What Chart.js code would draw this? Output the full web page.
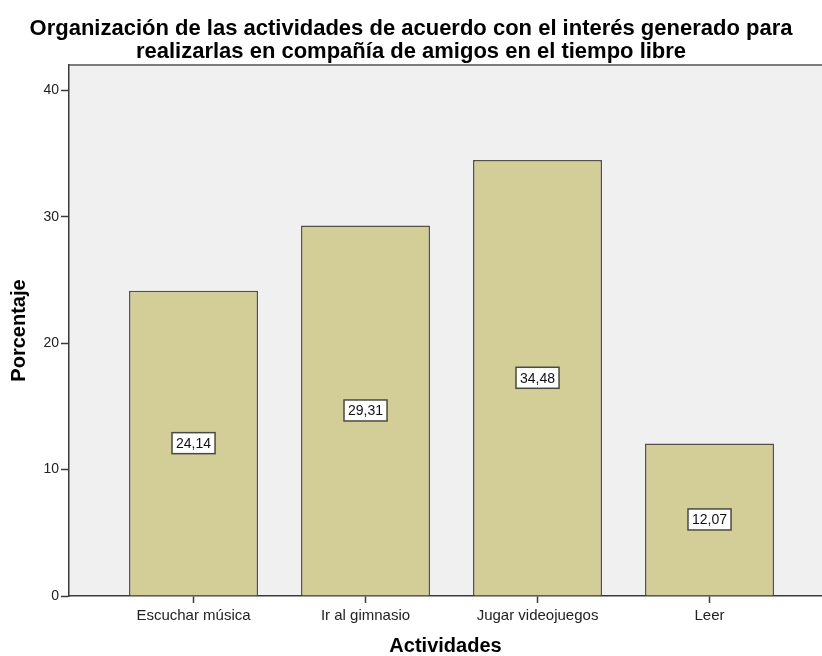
<!DOCTYPE html>
<html>
<head>
<meta charset="utf-8">
<script src="https://cdn.jsdelivr.net/npm/chart.js@4"></script>
<style>
  html, body { margin: 0; padding: 0; background: #ffffff; }
  #wrap { width: 822px; height: 656px; }
</style>
</head>
<body>
<div id="wrap"><canvas id="chart" width="822" height="656"></canvas></div>
<script>
// Activities and their share (%) of responses
const categories = ['Escuchar música', 'Ir al gimnasio', 'Jugar videojuegos', 'Leer'];
const percentages = [24.14, 29.31, 34.48, 12.07];
const yTicks = [0, 10, 20, 30, 40];
const titleLines = [
  'Organización de las actividades de acuerdo con el interés generado para',
  'realizarlas en compañía de amigos en el tiempo libre'
];
const xTitle = 'Actividades';
const yTitle = 'Porcentaje';

const FONT = "'Liberation Sans', Arial, sans-serif";
const AXIS_COLOR = '#3a3a3a';

// Plot background and the grey frame line along the top of the plot
const plotBackground = {
  id: 'plotBackground',
  beforeDraw(chart) {
    const { ctx, chartArea: a } = chart;
    ctx.save();
    ctx.fillStyle = '#f0f0f0';
    ctx.fillRect(a.left, a.top, a.right - a.left, a.bottom - a.top);
    ctx.strokeStyle = '#7c7c7c';
    ctx.lineWidth = 2;
    ctx.beginPath();
    ctx.moveTo(a.left, a.top);
    ctx.lineTo(a.right, a.top);
    ctx.stroke();
    ctx.restore();
  }
};

// Boxed value labels placed half way up each bar
const valueBoxes = {
  id: 'valueBoxes',
  afterDatasetsDraw(chart) {
    const { ctx } = chart;
    const meta = chart.getDatasetMeta(0);
    ctx.save();
    ctx.font = '14px ' + FONT;
    ctx.textAlign = 'center';
    ctx.textBaseline = 'middle';
    meta.data.forEach((bar, i) => {
      const text = percentages[i].toFixed(2).replace('.', ',');
      const cx = bar.x;
      const cy = (bar.y + bar.base) / 2;
      const w = ctx.measureText(text).width + 8;
      const h = 21;
      ctx.fillStyle = '#ffffff';
      ctx.fillRect(cx - w / 2, cy - h / 2, w, h);
      ctx.strokeStyle = '#4a4a3c';
      ctx.lineWidth = 1.5;
      ctx.strokeRect(cx - w / 2, cy - h / 2, w, h);
      ctx.fillStyle = '#111111';
      ctx.fillText(text, cx, cy + 1);
    });
    ctx.restore();
  }
};

new Chart(document.getElementById('chart'), {
  type: 'bar',
  data: {
    datasets: [{
      data: percentages.map((v, i) => ({ x: i + 1, y: v })),
      backgroundColor: 'rgb(211,206,151)',
      borderColor: '#525246',
      borderWidth: 1.5,
      barPercentage: 0.75,
      categoryPercentage: 1
    }]
  },
  options: {
    responsive: false,
    animation: false,
    layout: { padding: 0 },
    plugins: {
      legend: { display: false },
      tooltip: { enabled: false },
      title: {
        display: true,
        text: titleLines,
        color: '#000000',
        font: { family: FONT, size: 22, weight: 'bold', lineHeight: '23px' },
        padding: { top: 17, bottom: 2 }
      }
    },
    scales: {
      x: {
        type: 'linear',
        offset: false,
        min: 0.276,
        max: 4.654,
        afterBuildTicks(scale) {
          scale.ticks = categories.map((c, i) => ({ value: i + 1 }));
        },
        afterFit(scale) { scale.height = 60; },
        ticks: {
          autoSkip: false,
          maxRotation: 0,
          padding: 4,
          color: '#222222',
          font: { family: FONT, size: 15 },
          callback: (v) => categories[v - 1]
        },
        grid: {
          offset: false,
          drawOnChartArea: false,
          drawTicks: true,
          tickLength: 7,
          tickColor: AXIS_COLOR,
          tickWidth: 1.5
        },
        border: { display: true, color: AXIS_COLOR, width: 1.5 },
        title: {
          display: true,
          text: xTitle,
          color: '#000000',
          font: { family: FONT, size: 20, weight: 'bold', lineHeight: 1 },
          padding: { top: 0, bottom: 0 }
        }
      },
      y: {
        min: 0,
        max: 42,
        afterBuildTicks(scale) {
          scale.ticks = yTicks.map(v => ({ value: v }));
        },
        afterFit(scale) { scale.width = 69; },
        ticks: {
          padding: 2,
          color: '#222222',
          font: { family: FONT, size: 14 }
        },
        grid: {
          drawOnChartArea: false,
          drawTicks: true,
          tickLength: 8,
          tickColor: AXIS_COLOR,
          tickWidth: 1.5
        },
        border: { display: true, color: AXIS_COLOR, width: 1.5 },
        title: {
          display: true,
          text: yTitle,
          color: '#000000',
          font: { family: FONT, size: 20, weight: 'bold', lineHeight: 1 },
          padding: { top: 9, bottom: 0 }
        }
      }
    }
  },
  plugins: [plotBackground, valueBoxes]
});
</script>
</body>
</html>
